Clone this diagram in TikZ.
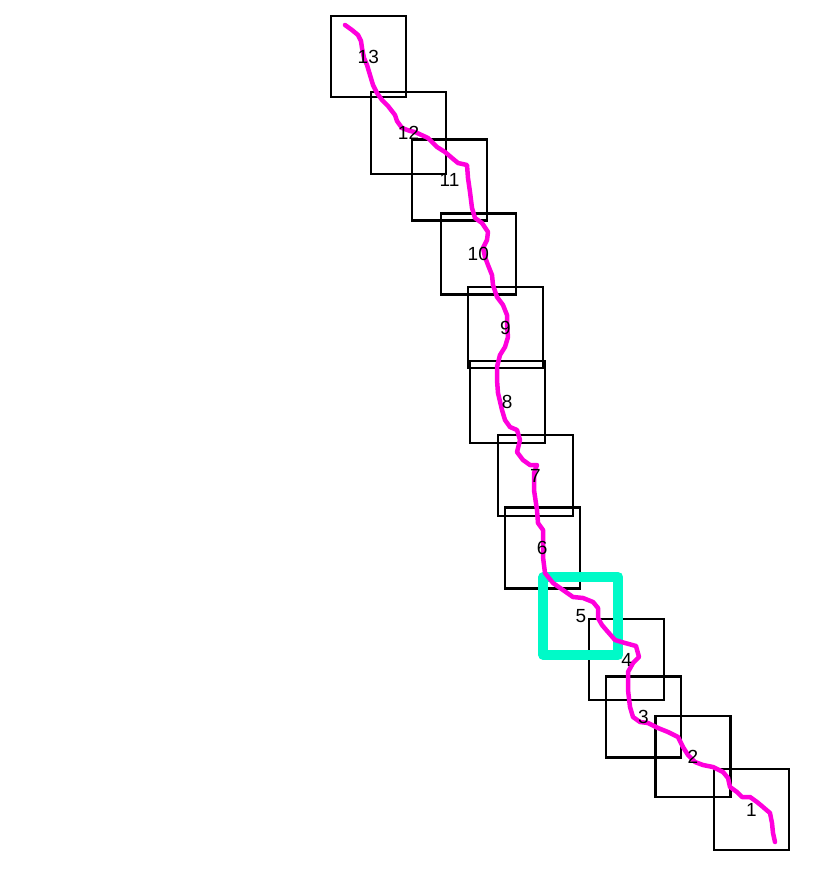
\documentclass[tikz,border=0pt]{standalone}
\usepackage{fontspec}
\setmainfont{Liberation Sans}
\usepackage{tikz}
\usetikzlibrary{positioning}
\definecolor{trackpink}{RGB}{255,0,220}
\definecolor{focuscyan}{RGB}{0,250,200}
\tikzset{
  frame/.style={draw,line width=2.4pt,minimum width=75pt,minimum height=81pt,inner sep=0pt},
  focusframe/.style={draw=focuscyan,line width=10pt,line join=round,minimum width=75pt,minimum height=78pt,inner sep=0pt},
  track/.style={draw=trackpink,line width=4.5pt,line join=round,line cap=round},
  tag/.style={font=\fontsize{19}{21}\selectfont,inner sep=0pt}
}

\begin{document}
\begin{tikzpicture}[x=1pt,y=-1pt]
  \useasboundingbox (0,0) rectangle (828,876);
  % frames along the track
  \node[frame] (f13) at (368.3,56.5) {};
  \node[frame,minimum height=82pt] (f12) at (408.5,133) {};
  \node[frame] (f11) at (449.5,179.8) {};
  \node[frame] (f10) at (478.3,253.8) {};
  \node[frame] (f9) at (505.5,327.7) {};
  \node[frame,minimum height=82pt] (f8) at (507.2,401.8) {};
  \node[frame] (f7) at (535.3,475.5) {};
  \node[frame] (f6) at (542.2,548) {};
  \node[frame] (f4) at (626.7,659.7) {};
  \node[frame] (f3) at (643.3,716.8) {};
  \node[frame] (f2) at (692.8,756.7) {};
  \node[frame] (f1) at (751.3,809.5) {};
  \node[focusframe] (f5) at (580.8,616) {};
  % the track
  \draw[track] (345,25) -- (352,30) -- (358,35) -- (361,41) -- (362,48) -- (364,58)
    -- (367,65) -- (370,75) -- (373,85) -- (377,93) -- (382,100) -- (388,106)
    -- (395,115) -- (397,121) -- (402,128) -- (410,131) -- (415,132) -- (428,138)
    -- (437,147) -- (445,152) -- (452,158) -- (458,163) -- (467,165) -- (468,178)
    -- (470,192) -- (472,208) -- (475,218) -- (482,223) -- (488,232) -- (487,240)
    -- (483,248) -- (485,257) -- (488,265) -- (492,275) -- (493,285) -- (497,297)
    -- (503,305) -- (507,315) -- (507,325) -- (508,337) -- (505,347) -- (500,355)
    -- (497,367) -- (497,380) -- (498,393) -- (502,410) -- (505,420) -- (510,427)
    -- (517,430) -- (520,440) -- (517,452) -- (523,460) -- (530,465) -- (537,465)
    -- (534,473) -- (534,490) -- (537,510) -- (538,523) -- (543,530) -- (543,540)
    -- (543,557) -- (545,573) -- (553,583) -- (563,590) -- (573,597) -- (583,598)
    -- (593,602) -- (598,608) -- (598,618) -- (602,625) -- (608,632) -- (615,640)
    -- (625,643) -- (636,646) -- (639,657) -- (633,663) -- (628,672) -- (628,690)
    -- (630,707) -- (633,717) -- (640,722) -- (648,723) -- (658,728) -- (668,732)
    -- (678,737) -- (683,747) -- (688,755) -- (695,762) -- (703,765) -- (713,767)
    -- (723,772) -- (728,778) -- (730,787) -- (737,792) -- (742,797) -- (750,797)
    -- (757,802) -- (763,807) -- (770,813) -- (772,823) -- (773,833) -- (775,842);
  % numbers
  \node[tag] (t13) at (f13.center) {13};
  \node[tag] (t12) at (f12.center) {12};
  \node[tag] (t11) at (f11.center) {11};
  \node[tag] (t10) at (f10.center) {10};
  \node[tag] (t9) at (f9.center) {9};
  \node[tag] (t8) at (f8.center) {8};
  \node[tag] (t7) at (f7.center) {7};
  \node[tag] (t6) at (f6.center) {6};
  \node[tag] (t5) at (f5.center) {5};
  \node[tag] (t4) at (f4.center) {4};
  \node[tag] (t3) at (f3.center) {3};
  \node[tag] (t2) at (f2.center) {2};
  \node[tag] (t1) at (f1.center) {1};
\end{tikzpicture}
\end{document}
